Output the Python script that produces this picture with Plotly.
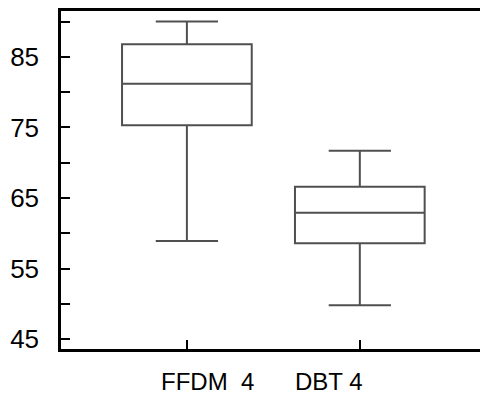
import plotly.graph_objects as go

categories = ["FFDM 4", "DBT 4"]
q1 = [75.3, 58.6]
median = [81.2, 62.9]
q3 = [86.8, 66.6]
lowerfence = [58.9, 49.8]
upperfence = [90.0, 71.7]
label_text = ["FFDM  4", "DBT 4"]
major_ticks = [45, 55, 65, 75, 85]
minor_ticks = [50, 60, 70, 80, 90]

FONT = "Liberation Sans, Arial, sans-serif"

fig = go.Figure()
fig.add_trace(go.Box(
    x=categories,
    q1=q1, median=median, q3=q3,
    lowerfence=lowerfence, upperfence=upperfence,
    boxpoints=False,
    width=0.75,
    whiskerwidth=0.48,
    fillcolor="rgba(0,0,0,0)",
    line=dict(color="#505050", width=2),
    showlegend=False,
))

fig.update_layout(
    width=482, height=396,
    margin=dict(l=61, r=2, t=11, b=47),
    plot_bgcolor="white", paper_bgcolor="white",
    font=dict(family=FONT, size=26, color="black"),
    xaxis=dict(
        type="category",
        range=[-0.728, 1.695],
        showline=True, linecolor="black", linewidth=2.5, mirror=True,
        ticks="inside", ticklen=9, tickwidth=2, tickcolor="black",
        showticklabels=False, showgrid=False, zeroline=False,
    ),
    yaxis=dict(
        range=[43.6, 91.5],
        tickvals=major_ticks,
        showline=True, linecolor="black", linewidth=2.5,
        ticks="inside", ticklen=9, tickwidth=2, tickcolor="black",
        ticklabelstandoff=14,
        tickfont=dict(family=FONT, size=26, color="black"),
        showgrid=False, zeroline=False,
        minor=dict(tickvals=minor_ticks, ticks="inside", ticklen=9,
                   tickwidth=2, tickcolor="black", showgrid=False),
    ),
)

label_pos = [0.35, 0.64]
for txt, px in zip(label_text, label_pos):
    fig.add_annotation(
        text=txt, xref="paper", yref="paper", x=px, y=0, yshift=-32,
        xanchor="center", yanchor="middle", showarrow=False,
        font=dict(family=FONT, size=24, color="black"),
    )

fig.write_html("out.html")
